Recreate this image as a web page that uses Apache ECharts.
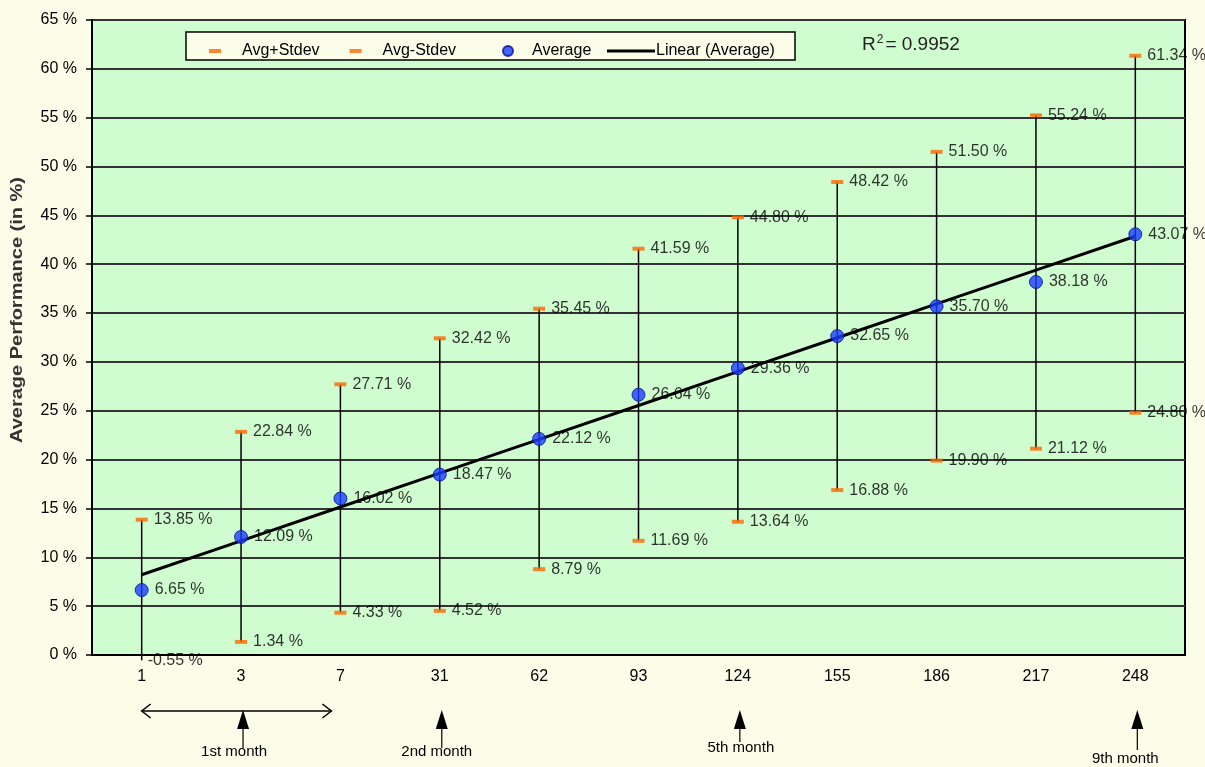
<!DOCTYPE html>
<html><head><meta charset="utf-8">
<script src="https://cdn.jsdelivr.net/npm/echarts@6/dist/echarts.min.js"></script>
<style>html,body{margin:0;padding:0;background:#FBFDE9;} #c{width:1205px;height:767px;}</style>
</head><body><div id="c"></div>
<script>
// ---- data ----
const categories = ['1','3','7','31','62','93','124','155','186','217','248'];
const average = [6.65,12.09,16.02,18.47,22.12,26.64,29.36,32.65,35.70,38.18,43.07];
const upper = [13.85,22.84,27.71,32.42,35.45,41.59,44.80,48.42,51.50,55.24,61.34];
const lower = [-0.55,1.34,4.33,4.52,8.79,11.69,13.64,16.88,19.90,21.12,24.80];
const yMin = 0, yMax = 65, yStep = 5;
const rSquared = '0.9952';
const monthLabels = ['1st month','2nd month','5th month','9th month'];
const monthCategories = ['3','31','124','248'];
const yTitle = 'Average Performance (in %)';

// linear trendline (least squares on the averages, x = 1..n)
const n = average.length;
const mx = (n + 1) / 2;
const my = average.reduce((a, b) => a + b, 0) / n;
let sxy = 0, sxx = 0;
average.forEach((v, i) => { sxy += (i + 1 - mx) * (v - my); sxx += (i + 1 - mx) * (i + 1 - mx); });
const slope = sxy / sxx;
const trend = average.map((v, i) => +(my + slope * (i + 1 - mx)).toFixed(3));

const FONT = 'Liberation Sans, Arial, sans-serif';
const ORANGE = '#FF6600';
const pct = p => p.value.toFixed(2) + ' %';
const lbl = { show: true, position: 'right', distance: 6, formatter: pct, color: '#000', fontSize: 16, fontFamily: FONT };

const chart = echarts.init(document.getElementById('c'));
const option = {
  backgroundColor: '#FBFDE9',
  animation: false,
  textStyle: { fontFamily: FONT },
  grid: { left: 92, right: 20, top: 20, bottom: 112, show: true, backgroundColor: '#D0FDD0', borderColor: '#000', borderWidth: 2 },
  xAxis: {
    type: 'category', data: categories, boundaryGap: true,
    axisLine: { lineStyle: { color: '#000', width: 2 } },
    axisTick: { length: 7, lineStyle: { color: '#000', width: 1.5 }, interval: (idx) => idx !== 1 },
    axisLabel: { color: '#000', fontSize: 16, fontFamily: FONT, margin: 14 },
    splitLine: { show: false }
  },
  yAxis: {
    type: 'value', min: yMin, max: yMax, interval: yStep,
    axisLine: { show: true, lineStyle: { color: '#000', width: 2 } },
    axisTick: { show: true, length: 6, lineStyle: { color: '#000', width: 1.5 } },
    axisLabel: { color: '#000', fontSize: 16, fontFamily: FONT, formatter: '{value} %', margin: 15 },
    splitLine: { lineStyle: { color: '#333', width: 2 } }
  },
  legend: [
    { data: ['Avg+Stdev', 'Avg-Stdev'], left: 204, top: 38, icon: 'rect', itemWidth: 12, itemHeight: 4, itemGap: 30, z: 6,
      textStyle: { fontSize: 16, color: '#000', fontFamily: FONT, padding: [0, 0, 0, 16] } },
    { data: ['Average'], left: 497, top: 38, icon: 'circle', itemWidth: 10, itemHeight: 10, z: 6,
      textStyle: { fontSize: 16, color: '#000', fontFamily: FONT, padding: [0, 0, 0, 14] } },
    { data: ['Linear (Average)'], left: 602, top: 38, icon: 'rect', itemWidth: 48, itemHeight: 3, z: 6,
      textStyle: { fontSize: 16, color: '#000', fontFamily: FONT, padding: [0, 0, 0, -4] } }
  ],
  series: [
    { name: 'bars', type: 'custom', clip: false, z: 2, silent: true,
      data: categories.map((c, i) => [i, lower[i], upper[i]]),
      encode: { x: 0, y: [1, 2] },
      renderItem: (params, api) => {
        const lo = api.coord([api.value(0), api.value(1)]);
        const hi = api.coord([api.value(0), api.value(2)]);
        return { type: 'line', shape: { x1: lo[0], y1: lo[1], x2: hi[0], y2: hi[1] }, style: { stroke: '#000', lineWidth: 1.5 } };
      }
    },
    { name: 'Avg+Stdev', type: 'scatter', data: upper, symbol: 'rect', symbolSize: [12, 4], z: 3,
      itemStyle: { color: ORANGE }, label: lbl },
    { name: 'Avg-Stdev', type: 'scatter', data: lower, symbol: 'rect', clip: false, z: 3,
      symbolSize: v => (v < yMin ? 0 : [12, 4]),
      itemStyle: { color: ORANGE }, label: lbl },
    { name: 'Linear (Average)', type: 'line', data: trend, symbol: 'none', z: 4,
      itemStyle: { color: '#000' }, lineStyle: { color: '#000', width: 3 } },
    { name: 'Average', type: 'scatter', data: average, symbol: 'circle', symbolSize: 13, z: 5,
      itemStyle: { color: '#1A3CFF', borderColor: '#00108A', borderWidth: 1 }, label: lbl }
  ]
};
chart.setOption(option);

// annotations below the axis, anchored on the category positions
const px = c => chart.convertToPixel({ xAxisIndex: 0 }, c);
const graphics = [
  { type: 'rect', z: 5, shape: { x: 186, y: 32, width: 609, height: 28 }, style: { fill: '#FBFDE9', stroke: '#000', lineWidth: 1.5 } },
  { type: 'text', z: 6, x: 862, y: 34, style: { rich: { a: { fontSize: 19, fontFamily: FONT, fill: '#222' }, s: { fontSize: 12, fontFamily: FONT, fill: '#222', verticalAlign: 'top', padding: [0, 2, 9, 1] } }, text: '{a|R}{s|2}{a|= ' + rSquared + '}' } },
  { type: 'text', x: 18, y: 310, rotation: Math.PI / 2, scaleX: 1.25, style: { text: yTitle, font: 'bold 16px ' + FONT, fill: '#333', align: 'center', verticalAlign: 'middle' } }
];
// double arrow spanning the first month
const xa = px(categories[0]), xb = px(categories[2]) - 9, ya = 711;
graphics.push({ type: 'line', shape: { x1: xa, y1: ya, x2: xb, y2: ya }, style: { stroke: '#000', lineWidth: 1.5 } });
graphics.push({ type: 'polyline', shape: { points: [[xa + 9, ya - 7], [xa, ya], [xa + 9, ya + 7]] }, style: { stroke: '#000', lineWidth: 1.5, fill: null } });
graphics.push({ type: 'polyline', shape: { points: [[xb - 9, ya - 7], [xb, ya], [xb - 9, ya + 7]] }, style: { stroke: '#000', lineWidth: 1.5, fill: null } });
const arrowBottoms = [748, 748, 742, 750];
const labelDx = [-9, -5, 1, -12];
const labelY = [752, 752, 748, 759];
monthCategories.forEach((c, k) => {
  const x = px(c) + 2;
  graphics.push({ type: 'line', shape: { x1: x, y1: 725, x2: x, y2: arrowBottoms[k] }, style: { stroke: '#000', lineWidth: 1.2 } });
  graphics.push({ type: 'polygon', shape: { points: [[x, 710], [x - 6, 729], [x + 6, 729]] }, style: { fill: '#000' } });
  graphics.push({ type: 'text', x: x + labelDx[k], y: labelY[k], style: { text: monthLabels[k], font: '15px ' + FONT, fill: '#000', align: 'center', verticalAlign: 'middle' } });
});
chart.setOption({ graphic: graphics });
</script>
</body></html>
